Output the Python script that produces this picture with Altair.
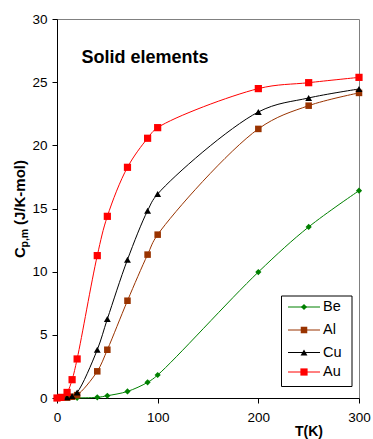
import altair as alt
import pandas as pd

series = ["Be", "Al", "Cu", "Au"]
colors = ["#008000", "#993300", "#000000", "#FF0000"]
shapes = ["diamond", "square", "triangle-up", "square"]
sizes = [38, 52, 52, 60]

be_T = [20, 40, 50, 70, 90, 100, 200, 250, 300]
be_C = [0.01, 0.05, 0.18, 0.52, 1.24, 1.82, 9.97, 13.54, 16.41]

al_T = [10, 15, 20, 40, 50, 70, 90, 100, 200, 250, 300]
al_C = [0.03, 0.10, 0.23, 2.11, 3.82, 7.70, 11.35, 12.93, 21.30, 23.14, 24.15]

cu_T = [10, 15, 20, 40, 50, 70, 90, 100, 200, 250, 300]
cu_C = [0.05, 0.15, 0.44, 3.82, 6.25, 10.95, 14.83, 16.15, 22.64, 23.75, 24.46]

au_T = [0, 4, 10, 15, 20, 40, 50, 70, 90, 100, 200, 250, 300]
au_C = [0.0, 0.05, 0.44, 1.45, 3.09, 11.27, 14.38, 18.26, 20.56, 21.40, 24.49, 24.96, 25.38]

x_ticks = [0, 100, 200, 300]
y_ticks = [0, 5, 10, 15, 20, 25, 30]

rows = []
for name, Ts, Cs in zip(series, [be_T, al_T, cu_T, au_T], [be_C, al_C, cu_C, au_C]):
    for t, c in zip(Ts, Cs):
        rows.append({"element": name, "T": t, "Cp": c})
df = pd.DataFrame(rows)

FONT = "Liberation Sans"
W, H = 302, 379

x = alt.X("T:Q", title=None,
          scale=alt.Scale(domain=[0, 300], nice=False, zero=False),
          axis=alt.Axis(values=x_ticks, grid=False, domainColor="#000000", tickColor="#000000",
                        tickSize=5, labelFontSize=13.5, labelColor="#000000", labelFont=FONT,
                        labelPadding=7, labelFlush=False))
y = alt.Y("Cp:Q", title=None,
          scale=alt.Scale(domain=[0, 30], nice=False, zero=False),
          axis=alt.Axis(values=y_ticks, grid=False, domainColor="#000000", tickColor="#000000",
                        tickSize=5, labelFontSize=13.5, labelColor="#000000", labelFont=FONT,
                        labelPadding=5, labelFlush=False))
color = alt.Color("element:N", scale=alt.Scale(domain=series, range=colors), legend=None)
shape = alt.Shape("element:N", scale=alt.Scale(domain=series, range=shapes), legend=None)
size = alt.Size("element:N", scale=alt.Scale(domain=series, range=sizes), legend=None)

lines = alt.Chart(df).mark_line(interpolate="catmull-rom", strokeWidth=1).encode(
    x=x, y=y, color=color)
points = alt.Chart(df).mark_point(filled=True, opacity=1).encode(
    x=x, y=y, color=color, shape=shape, size=size)

layers = [lines, points]

# legend
box = alt.Chart(pd.DataFrame({"a": [0]})).mark_rect(
    fill="white", stroke="#000000", strokeWidth=1).encode(
    x=alt.value(224.5), x2=alt.value(295), y=alt.value(277), y2=alt.value(367.5))
layers.append(box)
leg_y = [288, 311, 333.5, 353]
for i, name in enumerate(series):
    one = pd.DataFrame({"element": [name]})
    layers.append(alt.Chart(one).mark_rule(strokeWidth=1).encode(
        x=alt.value(231), x2=alt.value(263), y=alt.value(leg_y[i]), color=color))
    layers.append(alt.Chart(one).mark_point(filled=True, opacity=1).encode(
        x=alt.value(247), y=alt.value(leg_y[i]), color=color, shape=shape, size=size))
    layers.append(alt.Chart(one).mark_text(
        align="left", baseline="middle", font=FONT, fontSize=14.5, color="#000000").encode(
        x=alt.value(266), y=alt.value(leg_y[i]), text="element:N"))

# titles
def txt(s, xx, yy, size_, angle=0, align="left"):
    return alt.Chart(pd.DataFrame({"t": [s]})).mark_text(
        align=align, baseline="alphabetic", font=FONT, fontSize=size_, fontWeight="bold",
        color="#000000", angle=angle).encode(x=alt.value(xx), y=alt.value(yy), text="t:N")

layers.append(txt("Solid elements", 24.5, 43.5, 18))
layers.append(txt("T(K)", 252, 416.5, 14, align="center"))
layers.append(txt("C", -32, 239, 15, angle=270))
layers.append(txt("p,m", -29.5, 228.5, 10.5, angle=270))
layers.append(txt("(J/K-mol)", -32, 206, 15, angle=270))

chart = alt.layer(*layers).properties(
    width=W, height=H,
    autosize=alt.AutoSizeParams(type="none"),
    padding={"left": 57, "top": 19, "right": 14, "bottom": 41},
).configure_view(stroke="#808080", strokeWidth=1)

chart.save("out.html", embed_options={"renderer": "svg", "actions": False})
